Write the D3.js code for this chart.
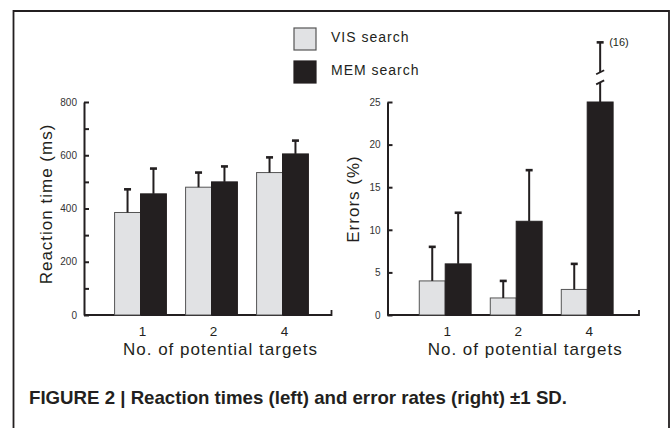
<!DOCTYPE html>
<html>
<head>
<meta charset="utf-8">
<script src="https://cdn.jsdelivr.net/npm/d3@7"></script>
<style>
  body { margin: 0; background: #fff; }
  svg { display: block; font-family: Arial, "Liberation Sans", sans-serif; }
</style>
</head>
<body>
<script>
// data
var categories = ["1", "2", "4"];
var seriesNames = ["VIS search", "MEM search"];

var rtVis = [385, 480, 535];
var rtVisSd = [87, 55, 57];
var rtMem = [455, 500, 605];
var rtMemSd = [95, 58, 50];

var errVis = [4, 2, 3];
var errVisSd = [4, 2, 3];
var errMem = [6, 11, 25];
var errMemSd = [6, 6, 16];

var rtTicks = [0, 100, 200, 300, 400, 500, 600, 700, 800];
var errTicks = [0, 5, 10, 15, 20, 25];

var caption = "FIGURE 2 | Reaction times (left) and error rates (right) \u00b11 SD.";

// SVG area
var svgWidth = 671;
var svgHeight = 428;
var ink = "#231f20";
var visFill = "#e1e2e4";

var svg = d3.select("body")
  .append("svg")
  .attr("width", svgWidth)
  .attr("height", svgHeight);

// frame round the figure
svg.append("path")
  .attr("d", "M13.5,428V11H669V428")
  .attr("fill", "none")
  .attr("stroke", ink)
  .attr("stroke-width", 1.8);

// legend
var legend = svg.append("g").attr("transform", "translate(294, 28)");
seriesNames.forEach(function(name, i) {
  var row = legend.append("g").attr("transform", `translate(0, ${i * 33})`);
  row.append("rect")
    .attr("width", 22)
    .attr("height", 22)
    .attr("fill", i ? ink : visFill)
    .attr("stroke", i ? ink : "#555")
    .attr("stroke-width", 1.2);
  row.append("text")
    .attr("x", 37)
    .attr("y", 14)
    .attr("font-size", 14)
    .attr("letter-spacing", 1)
    .attr("fill", ink)
    .text(name);
});

var plotTop = 102;
var plotBottom = 315;

function drawPanel(p) {
  var g = svg.append("g");

  var y = d3.scaleLinear().domain(p.domain).range([plotBottom, plotTop]);
  var x0 = d3.scaleBand()
    .domain(categories)
    .range(p.bandRange)
    .paddingInner(0.27)
    .paddingOuter(0.135);
  var x1 = d3.scaleBand()
    .domain(seriesNames)
    .range([0, x0.bandwidth()]);

  // y axis, ticks point inward
  var yAxis = d3.axisLeft(y)
    .tickValues(p.ticks)
    .tickSizeInner(-5)
    .tickSizeOuter(0)
    .tickPadding(7)
    .tickFormat(p.format);

  var ya = g.append("g")
    .attr("transform", `translate(${p.axisX}, 0)`)
    .call(yAxis);
  ya.select(".domain").attr("stroke", ink).attr("stroke-width", 2);
  ya.selectAll(".tick line").attr("stroke", ink).attr("stroke-width", 2);
  ya.selectAll(".tick text")
    .attr("font-size", 10)
    .attr("fill", "#333");

  // x axis line with small end tick
  g.append("path")
    .attr("d", `M${p.axisX},${plotBottom}H${p.axisEnd}V${plotBottom - 5}`)
    .attr("fill", "none")
    .attr("stroke", ink)
    .attr("stroke-width", 1.8);

  var xAxis = d3.axisBottom(x0).tickSize(0).tickPadding(11);
  var xa = g.append("g")
    .attr("transform", `translate(2, ${plotBottom})`)
    .call(xAxis);
  xa.select(".domain").remove();
  xa.selectAll(".tick text")
    .attr("font-size", 13.5)
    .attr("fill", ink);

  // bars
  var rows = categories.map(function(c, i) {
    return [
      { cat: c, s: seriesNames[0], v: p.vis[i], sd: p.visSd[i] },
      { cat: c, s: seriesNames[1], v: p.mem[i], sd: p.memSd[i] }
    ];
  });
  var flat = d3.merge(rows);

  g.selectAll(".bar")
    .data(flat)
    .enter()
    .append("rect")
    .attr("class", "bar")
    .attr("x", d => x0(d.cat) + x1(d.s))
    .attr("y", d => y(d.v))
    .attr("width", x1.bandwidth())
    .attr("height", d => plotBottom - y(d.v))
    .attr("fill", d => d.s === seriesNames[0] ? visFill : ink)
    .attr("stroke", d => d.s === seriesNames[0] ? "#555" : ink)
    .attr("stroke-width", 1);

  // error bars (upper only)
  flat.forEach(function(d) {
    var cx = x0(d.cat) + x1(d.s) + x1.bandwidth() / 2;
    var top = d.v + d.sd;
    var broken = p.breakCap !== undefined && top > p.domain[1];
    var capY = broken ? y(p.breakCap) : y(top);

    if (broken) {
      var b1 = y(p.breakAt[0]), b2 = y(p.breakAt[1]);
      g.append("line").attr("x1", cx).attr("x2", cx)
        .attr("y1", y(d.v)).attr("y2", b1)
        .attr("stroke", ink).attr("stroke-width", 2);
      g.append("line").attr("x1", cx).attr("x2", cx)
        .attr("y1", b2).attr("y2", capY)
        .attr("stroke", ink).attr("stroke-width", 2);
      [b1, b2].forEach(function(by) {
        g.append("line")
          .attr("x1", cx - 4).attr("y1", by + 2)
          .attr("x2", cx + 4).attr("y2", by - 2)
          .attr("stroke", ink).attr("stroke-width", 1.8);
      });
      g.append("text")
        .attr("x", cx + 9)
        .attr("y", capY + 4)
        .attr("font-size", 11)
        .attr("fill", ink)
        .text("(" + d.sd + ")");
    } else {
      g.append("line").attr("x1", cx).attr("x2", cx)
        .attr("y1", y(d.v)).attr("y2", capY)
        .attr("stroke", ink).attr("stroke-width", 2);
    }
    g.append("line")
      .attr("x1", cx - 3.5).attr("x2", cx + 3.5)
      .attr("y1", capY).attr("y2", capY)
      .attr("stroke", ink).attr("stroke-width", 2.6);
  });

  // axis titles
  var mid = (p.bandRange[0] + p.bandRange[1]) / 2 + 9;
  g.append("text")
    .attr("x", mid)
    .attr("y", 355)
    .attr("text-anchor", "middle")
    .attr("font-size", 17)
    .attr("letter-spacing", 1)
    .attr("fill", ink)
    .text("No. of potential targets");

  g.append("text")
    .attr("transform", `translate(${p.titleX}, ${p.titleY}) rotate(-90)`)
    .attr("text-anchor", "middle")
    .attr("font-size", 17)
    .attr("letter-spacing", 1)
    .attr("fill", ink)
    .text(p.title);
}

drawPanel({
  domain: [0, 800],
  ticks: rtTicks,
  format: d => d % 200 ? "" : d,
  axisX: 84,
  axisEnd: 331.5,
  bandRange: [105, 318],
  vis: rtVis, visSd: rtVisSd, mem: rtMem, memSd: rtMemSd,
  title: "Reaction time (ms)",
  titleX: 52,
  titleY: 204
});

drawPanel({
  domain: [0, 25],
  ticks: errTicks,
  format: d => d,
  axisX: 387.5,
  axisEnd: 639,
  bandRange: [409.7, 622.7],
  vis: errVis, visSd: errVisSd, mem: errMem, memSd: errMemSd,
  breakCap: 32,
  breakAt: [27.3, 28.5],
  title: "Errors (%)",
  titleX: 359,
  titleY: 199
});

// caption, squeezed to look like a condensed bold face
svg.append("text")
  .attr("x", 29)
  .attr("y", 404)
  .attr("font-family", "Arial, 'Liberation Sans', sans-serif")
  .attr("font-weight", "bold")
  .attr("font-size", 19)
  .attr("textLength", 538)
  .attr("lengthAdjust", "spacingAndGlyphs")
  .attr("fill", ink)
  .text(caption);
</script>
</body>
</html>
